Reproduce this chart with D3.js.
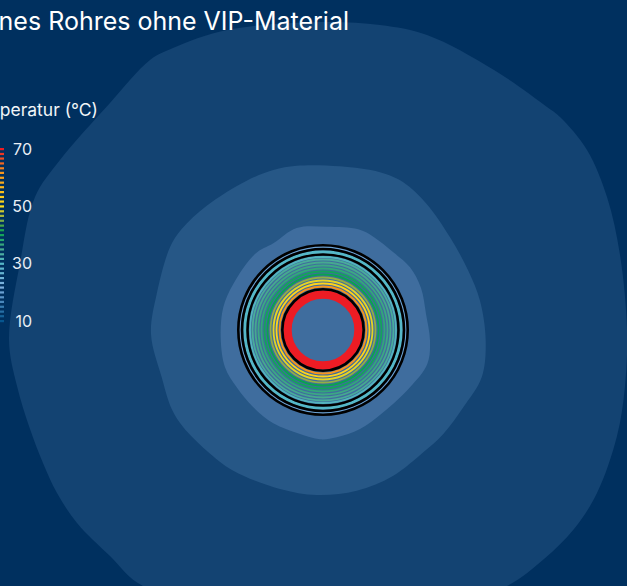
<!DOCTYPE html>
<html>
<head>
<meta charset="utf-8">
<script src="https://cdn.jsdelivr.net/npm/d3@7"></script>
<style>
  html, body { margin: 0; padding: 0; background: #00305f; overflow: hidden; }
  text { font-family: Inter, "Open Sans", sans-serif; }
</style>
</head>
<body>
<svg id="chart"></svg>
<script>
// Isotherm outlines, [x, y] in mm around the pipe axis
const outerIsotherm = [[-314,-10],[-303,67],[-288,133],[-263,170],[-213,227],[-173,270],[-150,282],[-96,300],[-3,308],[57,305],[104,295],[171,260],[224,223],[237,213],[264,180],[284,133],[297,75],[304,0],[302,-56],[294,-106],[274,-163],[251,-199],[221,-229],[184,-256],[117,-278],[27,-288],[-73,-278],[-180,-256],[-213,-226],[-246,-193],[-266,-163],[-280,-133],[-293,-99],[-306,-56]];
const middleIsotherm = [[-26.3,164.3],[17,163.7],[57,157.7],[80.3,147.7],[103.7,126],[127,92.7],[145.3,59.3],[157,29.3],[162.7,-10.7],[158.7,-47.3],[140.3,-77.3],[120.3,-104],[100.3,-122.3],[70.3,-145.7],[33.7,-160.7],[-6.3,-165],[-43,-159],[-89.7,-140.7],[-116.3,-120.7],[-139.7,-97.3],[-151.3,-79],[-161.3,-47.3],[-172,-4],[-166.3,36],[-153,82.7],[-141.3,101],[-116.3,124.3],[-76.3,149.3],[-49.7,160]];
const innerIsotherm = [[-26.3,102],[3.7,103.3],[35.3,100.7],[50.3,93.3],[70.3,77.7],[87,62.7],[98,42],[103,16],[107,-10.7],[104.3,-34],[87,-57.3],[60.3,-82.3],[37,-99],[13.7,-107.3],[-3,-109.3],[-23,-104],[-49.7,-93.3],[-69.7,-77.3],[-86.3,-57.3],[-98,-37.3],[-102.3,-7.3],[-99.7,22.7],[-89.7,46],[-68,76],[-49.7,86.7]];

// Circular isotherms in the insulation
const ringRadii = [43.5, 46.5, 49.5, 52.5, 55.5, 58.5, 61.5, 64.5, 67.5, 70.5, 73, 78, 83];
const ringTemps = [62, 52, 49, 46, 41, 40, 37, 36, 35, 34, 31, 30, 20];

// Pipe layers
const wallRadii = [40.7, 75.5, 81, 84.7];
const pipeInner = 31.3;
const pipeOuter = 39.7;

// Colour bar
const legendLevels = [70, 68.3, 66.7, 65, 63.3, 61.7, 60, 58.3, 56.7, 55, 53.3, 51.7, 50, 48.3, 46.7, 45, 43.3, 41.7, 40, 38.3, 36.7, 35, 33.3, 31.7, 30, 28.3, 26.7, 25, 23.3, 21.7, 20, 18.3, 16.7, 15, 13.3, 11.7, 10];
const legendTicks = [10, 30, 50, 70];
const colorStops = [70, 62, 50, 46, 41, 35, 30, 22, 10];
const colorValues = ['#ed1c24', '#f7941d', '#ffe01a', '#93ad45', '#0aa34f', '#46a98f', '#55b8c8', '#7fb0e0', '#06568f'];

const width = 627;
const height = 586;

const svg = d3.select('#chart')
    .attr('width', width)
    .attr('height', height)
    .style('display', 'block');

const x = d3.scaleLinear().domain([-323, 304]).range([0, width]);
const y = d3.scaleLinear().domain([330, -256]).range([0, height]);
const color = d3.scaleLinear().domain(colorStops).range(colorValues);

// Isotherm areas
const outline = d3.line()
    .x(d => x(d[0]))
    .y(d => y(d[1]))
    .curve(d3.curveCatmullRomClosed);

svg.selectAll('.isotherm')
    .data([
      { points: outerIsotherm, fill: '#134372' },
      { points: middleIsotherm, fill: '#265786' },
      { points: innerIsotherm, fill: '#3f6d9e' }
    ])
  .join('path')
    .attr('class', 'isotherm')
    .attr('d', d => outline(d.points))
    .attr('fill', d => d.fill);

const rad = r => x(r) - x(0);

// Rings
svg.selectAll('.ring')
    .data(ringRadii)
  .join('circle')
    .attr('class', 'ring')
    .attr('cx', x(0))
    .attr('cy', y(0))
    .attr('r', d => rad(d))
    .attr('fill', 'none')
    .attr('stroke', (d, i) => color(ringTemps[i]))
    .attr('stroke-width', (d, i) => i === 11 ? 3.5 : 1.8);

// Red pipe wall
svg.append('circle')
    .attr('cx', x(0))
    .attr('cy', y(0))
    .attr('r', rad((pipeInner + pipeOuter) / 2))
    .attr('fill', 'none')
    .attr('stroke', '#ed1c24')
    .attr('stroke-width', rad(pipeOuter - pipeInner));

// Black layer boundaries
svg.selectAll('.wall')
    .data(wallRadii)
  .join('circle')
    .attr('class', 'wall')
    .attr('cx', x(0))
    .attr('cy', y(0))
    .attr('r', d => rad(d))
    .attr('fill', 'none')
    .attr('stroke', '#000')
    .attr('stroke-width', 2.6);

// Colour bar
const legendY = d3.scaleLinear().domain([10, 70]).range([321, 149]);

svg.selectAll('.level')
    .data(legendLevels)
  .join('rect')
    .attr('class', 'level')
    .attr('x', 0)
    .attr('y', d => legendY(d) - 1)
    .attr('width', 4)
    .attr('height', 2.2)
    .attr('fill', d => color(d));

const legendAxis = svg.append('g')
    .attr('transform', 'translate(32,0)')
    .call(d3.axisLeft(legendY).tickValues(legendTicks).tickSize(0).tickPadding(0));

legendAxis.select('.domain').remove();
legendAxis.selectAll('text')
    .attr('font-size', 16)
    .attr('fill', '#e8eef5')
    .style('font-family', 'Inter, sans-serif');

svg.append('text')
    .attr('x', 98)
    .attr('y', 116)
    .attr('text-anchor', 'end')
    .attr('font-size', 17.5)
    .attr('fill', '#f2f5f8')
    .text('Temperatur (°C)');

// Title, cut off by the frame as in the original
svg.append('text')
    .attr('x', 349)
    .attr('y', 30)
    .attr('text-anchor', 'end')
    .attr('font-size', 25)
    .attr('fill', '#fff')
    .text('eines Rohres ohne VIP-Material');
</script>
</body>
</html>
